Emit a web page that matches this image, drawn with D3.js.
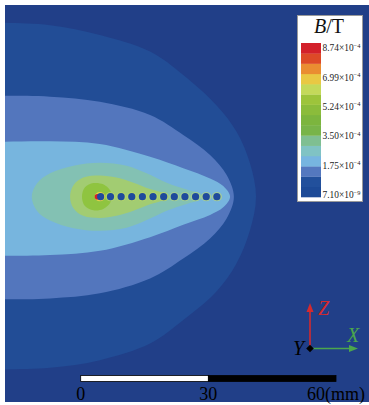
<!DOCTYPE html>
<html>
<head>
<meta charset="utf-8">
<script src="https://cdn.jsdelivr.net/npm/d3@7"></script>
<style>
  body { margin: 0; background: #fff; }
  svg { display: block; }
  text { font-family: "Liberation Serif", "DejaVu Serif", serif; }
</style>
</head>
<body>
<svg id="chart" width="369" height="405"></svg>
<script>
// colour bar bands, low -> high
const barColors = ['#1d4a97', '#22509c', '#5478bf', '#77b5e0', '#80c3c4', '#7fbf92', '#78b449',
                   '#7cb53e', '#8bbc3b', '#9dc43b', '#c4d95a', '#e9c843', '#ea8d31', '#dd4a27', '#d3212a'];
const barTicks = [7.10e-9, 1.75e-4, 3.50e-4, 5.24e-4, 6.99e-4, 8.74e-4];
const barTickLabels = [['7.10', '−9'], ['1.75', '−4'], ['3.50', '−4'], ['5.24', '−4'], ['6.99', '−4'], ['8.74', '−4']];

// contour outlines in mm (x along the electrode row, z up), outermost first
const outerBand = [[-24, 41], [-19, 40.9], [-7.2, 40.3], [4.5, 38.0], [16.3, 34.1], [24.1, 28.6], [31.9, 21.5],
                   [36.6, 15.3], [39.8, 7.8], [41.2, 0], [39.8, -7.8], [36.6, -15.7], [31.9, -22.3], [24.1, -29.0],
                   [16.3, -34.5], [4.5, -38.4], [-7.2, -40.2], [-19, -40.6], [-24, -40.7]];
const midBand = [[-24, 23.7], [-19, 23.7], [-7.2, 23.5], [4.5, 22.3], [16.3, 19.2], [24.1, 14.5], [30.4, 9.8],
                 [34.3, 5.1], [36.0, 0], [34.3, -5.1], [30.4, -9.8], [24.1, -14.5], [16.3, -19.2], [4.5, -22.7],
                 [-7.2, -23.9], [-19, -24.1], [-24, -24.1]];
const lightBand = [[-24, 12.9], [-19, 12.9], [-7.2, 13.0], [4.5, 12.4], [16.3, 9.4], [24.1, 6.7], [30.4, 4.3],
                   [33.5, 2.5], [35.1, 0], [33.5, -2.5], [30.4, -4.3], [24.1, -6.6], [16.3, -9.5], [4.5, -12.7],
                   [-7.2, -13.7], [-19, -13.9], [-24, -13.9]];
const tealBand = [[-11.5, 0], [-10.3, 3.1], [-7.2, 5.5], [-1.7, 7.3], [4.5, 8.0], [10.8, 7.3], [15.5, 5.5],
                  [20.2, 3.3], [24.9, 1.7], [28.0, 0.8], [29.0, 0], [28.0, -0.8], [24.9, -1.7], [20.2, -3.3],
                  [15.5, -5.5], [10.8, -7.3], [4.5, -8.0], [-1.7, -7.4], [-7.2, -5.6], [-10.3, -3.3]];
const greenBand = [[-2.5, 0], [-1.7, 2.7], [0.6, 4.5], [4.5, 5.0], [8.4, 4.5], [12.4, 3.3], [16.3, 1.8],
                   [19.4, 0.8], [20.2, 0], [19.4, -0.8], [16.3, -1.8], [12.4, -3.3], [8.4, -4.5], [4.5, -5.0],
                   [0.6, -4.5], [-1.7, -2.7]];
const coreBand = [[0.3, 0], [1.0, 2.2], [3.0, 3.2], [5.3, 2.9], [6.9, 1.5], [7.3, 0], [6.9, -1.5], [5.3, -2.9],
                  [3.0, -3.2], [1.0, -2.2]];

const fieldBg = '#213f88';
const bands = [
  { pts: outerBand, color: '#224d96' },
  { pts: midBand, color: '#5376bd' },
  { pts: lightBand, color: '#77b5de' },
  { pts: tealBand, color: '#83c1b3' },
  { pts: greenBand, color: '#a2cc72' },
  { pts: coreBand, color: '#8fc440' }
];

// electrode dots along z = 0 (mm)
const dotX = [4.5, 7.0, 9.5, 12.0, 14.5, 17.0, 19.5, 22.0, 24.5, 27.0, 29.5, 32.0];

// scale bar
const scaleTicks = [0, 30, 60];
const scaleTickLabels = ['0', '30', '60(mm)'];

const svg = d3.select('#chart');
const plot = { left: 5, top: 5, right: 369, bottom: 402 };

const xScale = d3.scaleLinear().domain([0, 60]).range([80.7, 336]);
const zScale = d3.scaleLinear().domain([-10, 10]).range([196.7 + 42.56, 196.7 - 42.56]);

svg.append('clipPath').attr('id', 'plotClip')
  .append('rect')
  .attr('x', plot.left).attr('y', plot.top)
  .attr('width', plot.right - plot.left).attr('height', plot.bottom - plot.top);

const field = svg.append('g').attr('clip-path', 'url(#plotClip)');

field.append('rect')
  .attr('x', plot.left).attr('y', plot.top)
  .attr('width', plot.right - plot.left).attr('height', plot.bottom - plot.top)
  .attr('fill', fieldBg);

const outline = d3.line()
  .x(d => xScale(d[0]))
  .y(d => zScale(d[1]))
  .curve(d3.curveCatmullRomClosed.alpha(0.5));

field.selectAll('.band')
  .data(bands)
  .join('path')
  .attr('class', 'band')
  .attr('d', d => outline(d.pts))
  .attr('fill', d => d.color);

// faint halos round the electrodes
field.selectAll('.halo')
  .data(dotX)
  .join('ellipse')
  .attr('class', 'halo')
  .attr('cx', d => xScale(d))
  .attr('cy', zScale(0))
  .attr('rx', 5.2)
  .attr('ry', 4.6)
  .attr('fill', (d, i) => i === 0 ? '#e3cf4a' : (i < 7 ? '#b4d46a' : '#a9d08e'))
  .attr('opacity', (d, i) => i === 0 ? 1 : 0.85);

field.append('circle')
  .attr('cx', xScale(dotX[0]) - 2.4)
  .attr('cy', zScale(0))
  .attr('r', 2.8)
  .attr('fill', '#d3212a');

field.selectAll('.dot')
  .data(dotX)
  .join('circle')
  .attr('class', 'dot')
  .attr('cx', (d, i) => xScale(d) + (i === 0 ? 0.8 : 0))
  .attr('cy', zScale(0))
  .attr('r', 3.6)
  .attr('fill', '#1f4a9c');

// colour bar
const bar = svg.append('g');
bar.append('rect')
  .attr('x', 297.5).attr('y', 15.5).attr('width', 65).attr('height', 186)
  .attr('fill', '#fff').attr('stroke', '#9a9a9a').attr('stroke-width', 1);

bar.append('text')
  .attr('x', 329).attr('y', 33)
  .attr('text-anchor', 'middle')
  .attr('font-size', 20)
  .attr('fill', '#111')
  .call(t => {
    t.append('tspan').attr('font-style', 'italic').text('B');
    t.append('tspan').text('/T');
  });

const bandScale = d3.scaleBand()
  .domain(d3.range(barColors.length).reverse())
  .range([43, 197]);

bar.selectAll('.swatch')
  .data(barColors)
  .join('rect')
  .attr('class', 'swatch')
  .attr('x', 301)
  .attr('y', (d, i) => bandScale(i))
  .attr('width', 20)
  .attr('height', bandScale.bandwidth() + 0.3)
  .attr('fill', d => d);

const valueScale = d3.scaleLinear().domain([barTicks[0], barTicks[barTicks.length - 1]]).range([195, 48]);

bar.selectAll('.barlabel')
  .data(barTicks)
  .join('text')
  .attr('class', 'barlabel')
  .attr('x', 322.5)
  .attr('y', d => valueScale(d) + 3.3)
  .attr('font-size', 9.4)
  .attr('fill', '#222')
  .each(function(d, i) {
    const t = d3.select(this);
    t.append('tspan').text(barTickLabels[i][0] + '×10');
    t.append('tspan').attr('dy', -3.8).attr('font-size', 6.4).text(barTickLabels[i][1]);
  });

// axis triad
const triad = svg.append('g');
const origin = [310, 348.5];
triad.append('line')
  .attr('x1', origin[0]).attr('y1', origin[1]).attr('x2', origin[0]).attr('y2', 311)
  .attr('stroke', '#d42a2e').attr('stroke-width', 1.6);
triad.append('path')
  .attr('d', `M${origin[0]},303 L${origin[0] - 3.5},312 L${origin[0] + 3.5},312 Z`)
  .attr('fill', '#d42a2e');
triad.append('line')
  .attr('x1', origin[0]).attr('y1', origin[1]).attr('x2', 350).attr('y2', origin[1])
  .attr('stroke', '#4ca64c').attr('stroke-width', 1.6);
triad.append('path')
  .attr('d', `M358,${origin[1]} L349,${origin[1] - 3.5} L349,${origin[1] + 3.5} Z`)
  .attr('fill', '#4ca64c');
triad.append('path')
  .attr('d', `M${origin[0] - 3.8},${origin[1]} L${origin[0]},${origin[1] - 3.8} L${origin[0] + 3.8},${origin[1]} L${origin[0]},${origin[1] + 3.8} Z`)
  .attr('fill', '#000');
triad.append('text').attr('x', 318).attr('y', 315).attr('font-size', 20).attr('font-style', 'italic')
  .attr('fill', '#d42a2e').text('Z');
triad.append('text').attr('x', 347).attr('y', 342).attr('font-size', 20).attr('font-style', 'italic')
  .attr('fill', '#4ca64c').text('X');
triad.append('text').attr('x', 293).attr('y', 355).attr('font-size', 20).attr('font-style', 'italic')
  .attr('fill', '#000').text('Y');

// scale bar
const scaleBar = svg.append('g');
scaleBar.selectAll('.seg')
  .data([[0, 30, '#fff'], [30, 60, '#000']])
  .join('rect')
  .attr('class', 'seg')
  .attr('x', d => xScale(d[0]))
  .attr('y', 375.5)
  .attr('width', d => xScale(d[1]) - xScale(d[0]))
  .attr('height', 6)
  .attr('fill', d => d[2])
  .attr('stroke', '#000').attr('stroke-width', 0.8);

scaleBar.selectAll('.seglabel')
  .data(scaleTicks)
  .join('text')
  .attr('class', 'seglabel')
  .attr('x', d => xScale(d))
  .attr('y', 399.5)
  .attr('text-anchor', 'middle')
  .attr('font-size', 18)
  .attr('fill', '#000')
  .text((d, i) => scaleTickLabels[i]);
</script>
</body>
</html>
